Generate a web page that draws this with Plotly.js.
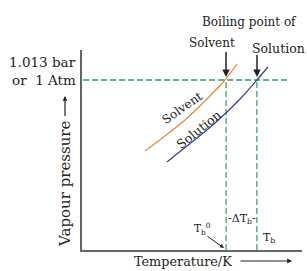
<!DOCTYPE html>
<html>
<head>
<meta charset="utf-8">
<script src="https://cdn.plot.ly/plotly-3.0.1.min.js"></script>
<style>html,body{margin:0;padding:0;background:#fff;}#chart{width:307px;height:271px;}</style>
</head>
<body>
<div id="chart"></div>
<script>
// Schematic values (arbitrary units, axis range 0-100)
const solventT = [28.6, 37.7, 46.8, 55.9, 65.0, 70.5];
const solventP = [49.5, 57.0, 65.0, 74.5, 85.0, 93.0];
const solutionT = [38.6, 47.7, 56.8, 65.9, 72.7, 79.5, 84.5];
const solutionP = [44.0, 52.0, 60.0, 69.0, 76.5, 85.0, 91.5];
const atmP = 85;            // 1.013 bar / 1 atm
const boilSolvent = 65.5;   // T_b^0
const boilSolution = 79.5;  // T_b
const atmLineT = [0.5, 93.6];

// layout helpers: pixel position -> paper units (plot area 82..302 x 50..250)
const X = (px) => (px - 82) / 220;
const Y = (py) => (250 - py) / 200;

const serif = 'DejaVu Serif, Liberation Serif, serif';
const green = '#2f9a63';
const dashStyle = '6px,3px';
const ink = '#222';

const traces = [
  {x: atmLineT, y: [atmP, atmP], mode: 'lines', line: {color: green, width: 1.5, dash: dashStyle}},
  {x: [boilSolvent, boilSolvent], y: [0, atmP], mode: 'lines', line: {color: green, width: 1.2, dash: dashStyle}},
  {x: [boilSolution, boilSolution], y: [0, atmP], mode: 'lines', line: {color: green, width: 1.2, dash: dashStyle}},
  {x: solventT, y: solventP, mode: 'lines', line: {color: '#e8873a', width: 1.2, shape: 'spline', smoothing: 0.8}},
  {x: solutionT, y: solutionP, mode: 'lines', line: {color: '#3b3f8c', width: 1.2, shape: 'spline', smoothing: 0.8}}
];

const f = (s) => ({family: serif, size: s, color: ink});
const txt = (px, py, text, size, extra) => Object.assign({
  xref: 'paper', yref: 'paper', x: X(px), y: Y(py), text: text, showarrow: false, font: f(size),
  xanchor: 'center', yanchor: 'middle'
}, extra || {});
const arrow = (hx, hy, tx, ty, w, sz) => ({
  xref: 'paper', yref: 'paper', x: X(hx), y: Y(hy), ax: tx - hx, ay: ty - hy, text: ' ', showarrow: true,
  arrowhead: 2, arrowsize: sz, arrowwidth: w, arrowcolor: ink,
  font: {size: 1}, borderpad: 0, standoff: 0, startstandoff: 0
});

const annotations = [
  txt(249, 22, 'Boiling point of', 12),
  txt(212, 43, 'Solvent', 12),
  txt(250, 48, 'Solution', 12.5, {xanchor: 'left'}),
  arrow(226, 77, 226, 51, 1.5, 1),
  arrow(257, 77, 257, 54, 1.5, 1),
  txt(78, 62, '1.013 bar', 13.5, {xanchor: 'right'}),
  txt(78, 80, 'or  1 Atm', 13.5, {xanchor: 'right'}),
  txt(182, 107.5, 'Solvent', 12, {textangle: -35}),
  txt(198.5, 129, 'Solution', 12.5, {textangle: -39}),
  txt(241.5, 219, '-ΔT<sub>b</sub>-', 11),
  txt(202, 229, 'T<sub>b</sub><sup>0</sup>', 10.5),
  arrow(224, 248, 207, 236, 1, 0.8),
  txt(268.5, 238, 'T<sub>b</sub>', 11),
  txt(132, 261, 'Temperature/K', 12.8, {xanchor: 'left'}),
  arrow(292, 261, 240, 261, 1.2, 0.8),
  txt(65, 184, 'Vapour pressure', 15, {textangle: -90}),
  arrow(65, 96, 65, 117, 1.2, 0.8)
];

const layout = {
  width: 307, height: 271,
  margin: {l: 82, r: 5, t: 50, b: 21, pad: 0},
  paper_bgcolor: '#fff', plot_bgcolor: '#fff',
  showlegend: false,
  xaxis: {range: [0, 100], showgrid: false, zeroline: false, showticklabels: false, ticks: '',
          showline: true, linecolor: '#666', linewidth: 1.6, fixedrange: true},
  yaxis: {range: [0, 100], showgrid: false, zeroline: false, showticklabels: false, ticks: '',
          showline: true, linecolor: '#666', linewidth: 1.6, fixedrange: true},
  annotations: annotations
};

Plotly.newPlot('chart', traces, layout, {displayModeBar: false, staticPlot: true});
</script>
</body>
</html>
